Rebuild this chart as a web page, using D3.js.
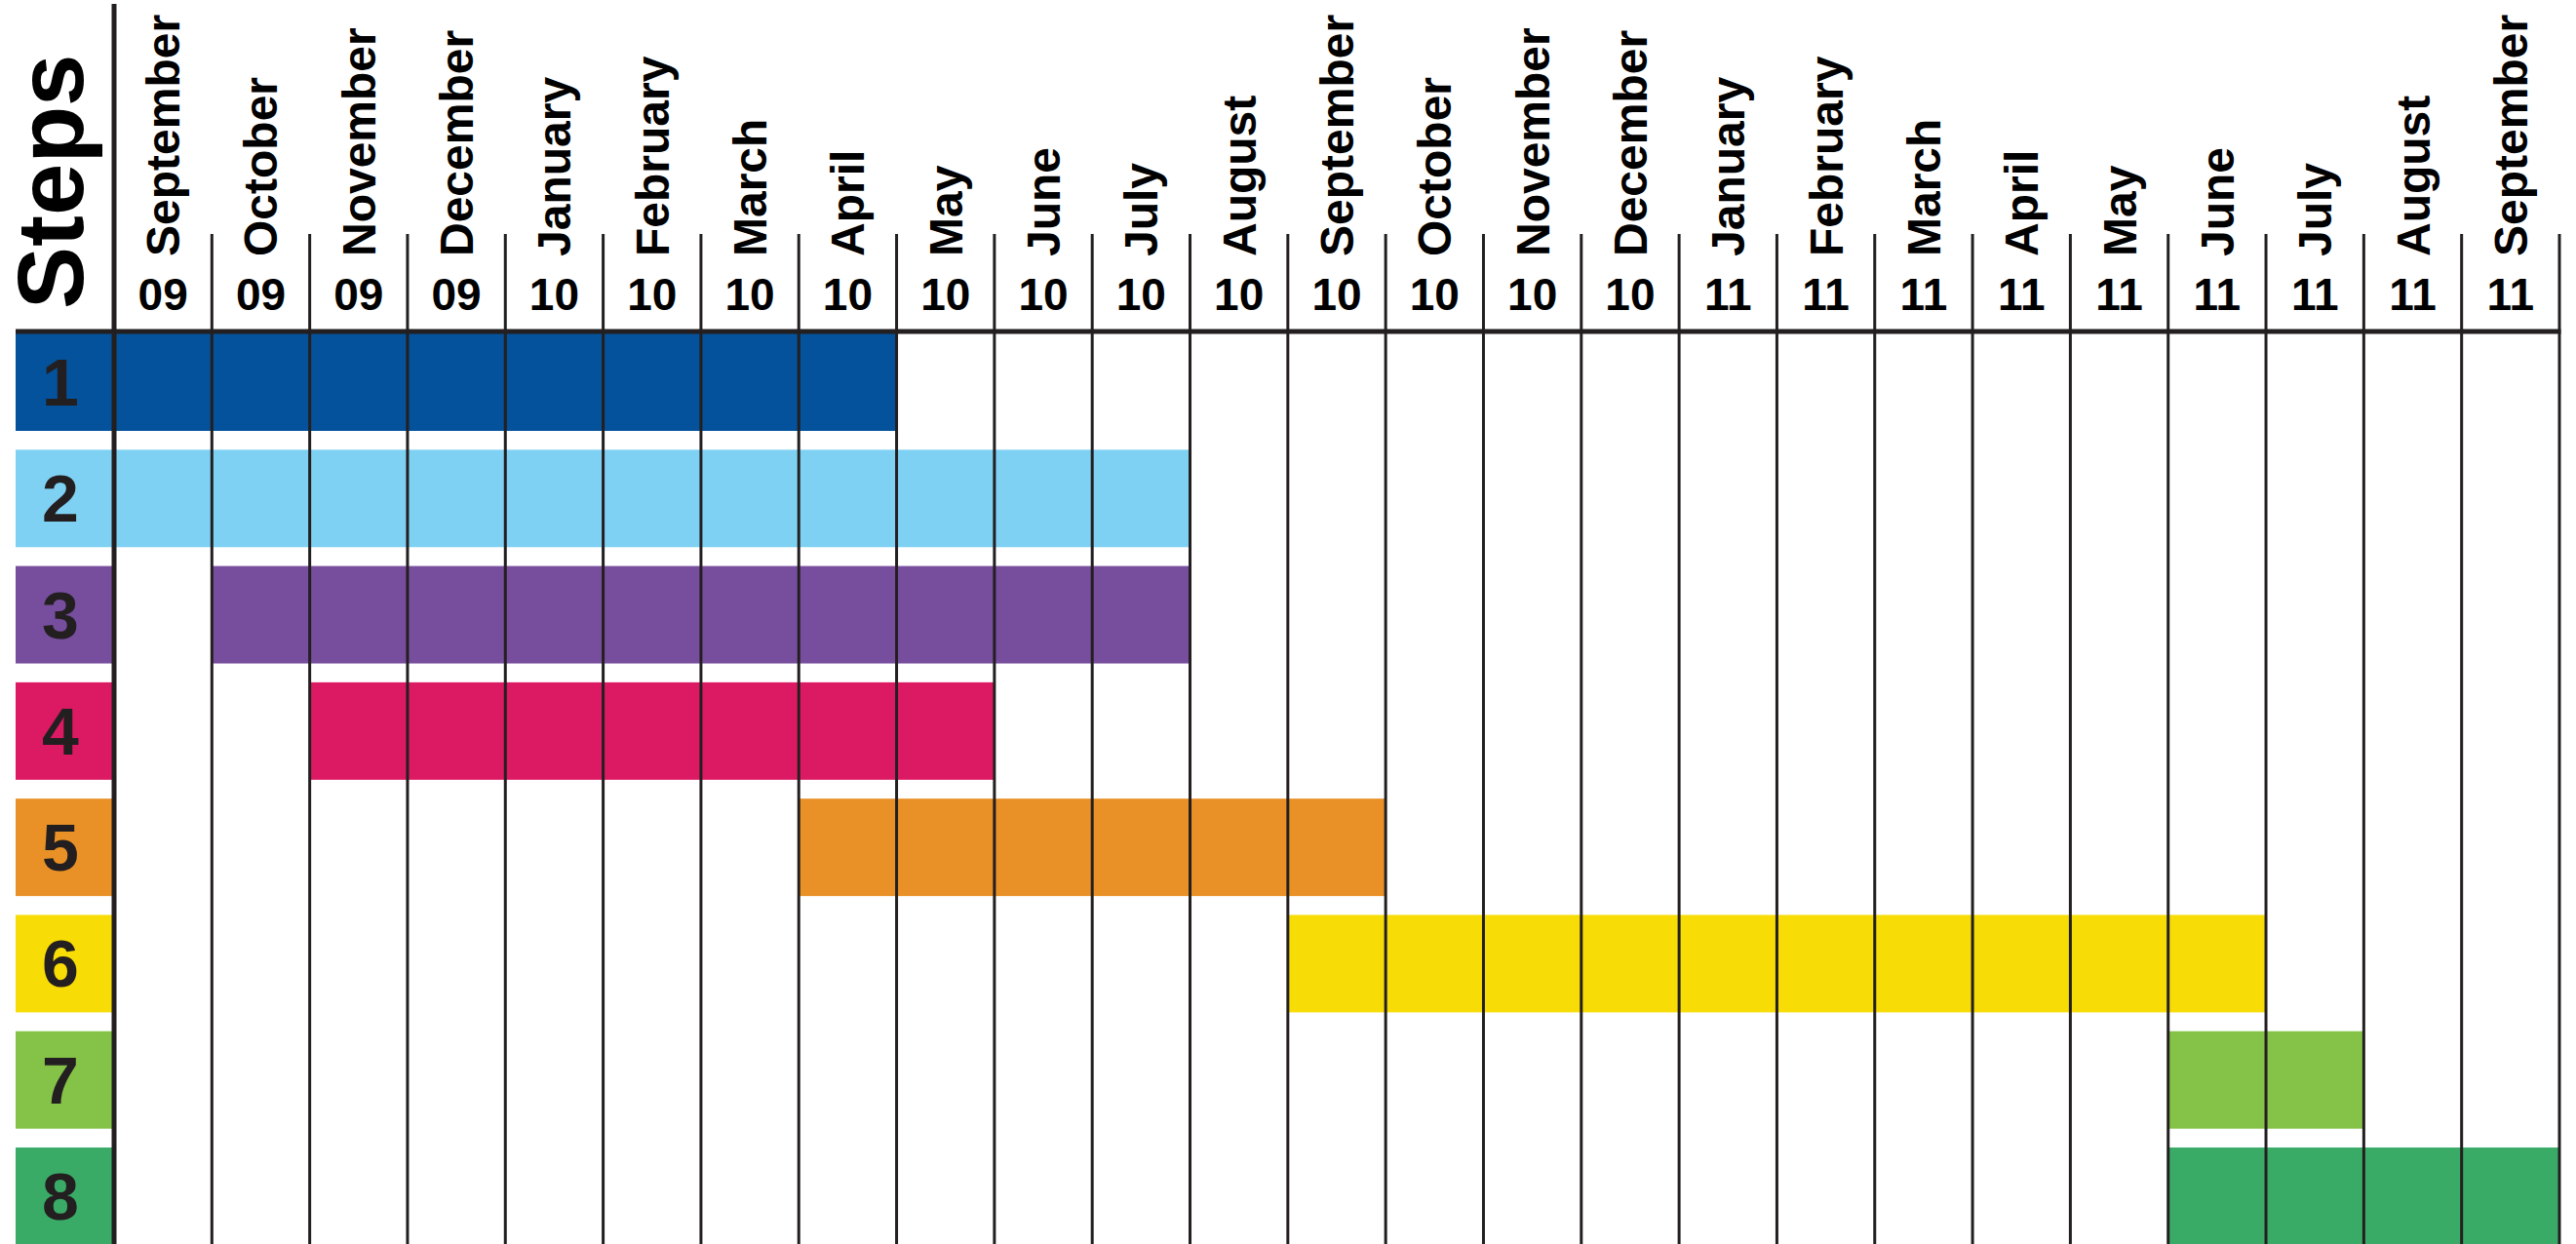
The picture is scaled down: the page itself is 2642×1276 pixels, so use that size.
<!DOCTYPE html>
<html lang="en">
<head>
    <meta charset="UTF-8">
    <script src="https://d3js.org/d3.v7.min.js"></script>
    <title>Steps</title>
    <style>
        body { margin: 0; background: white; }
        text { font-family: "Liberation Sans", Arial, sans-serif; font-weight: bold; }
    </style>
</head>
<body>
    <div class="fig"></div>
    <script>
        // month columns, Sep 09 .. Sep 11
        const months = ["September", "October", "November", "December", "January", "February", "March",
            "April", "May", "June", "July", "August", "September", "October", "November", "December",
            "January", "February", "March", "April", "May", "June", "July", "August", "September"];
        const years = ["09", "09", "09", "09", "10", "10", "10", "10", "10", "10", "10", "10", "10",
            "10", "10", "10", "11", "11", "11", "11", "11", "11", "11", "11", "11"];

        const steps = ["1", "2", "3", "4", "5", "6", "7", "8"];
        // first and last month index (inclusive) of each step
        const startMonth = [0, 0, 1, 2, 7, 12, 21, 21];
        const endMonth = [7, 10, 10, 8, 12, 21, 22, 24];
        const stepColors = ["#03529b", "#7fd1f3", "#774e9e", "#dc1a64", "#e99126", "#f8dc06", "#84c347", "#3aab67"];

        const width = 2642, height = 1276;
        const lineColor = "#231f20";

        const svg = d3.select(".fig").append("svg")
            .attr("width", width)
            .attr("height", height);

        const keys = months.map((m, i) => i);
        const x = d3.scaleBand().domain(keys).range([117, 2625]);
        const y = d3.scaleBand().domain(steps).range([342, 1277]).paddingInner(0.162);

        // step label boxes
        svg.selectAll("rect.label")
            .data(steps)
            .enter()
            .append("rect")
            .attr("x", 16)
            .attr("y", d => y(d))
            .attr("width", x(0) - 16)
            .attr("height", y.bandwidth())
            .attr("fill", (d, i) => stepColors[i]);

        svg.selectAll("text.step")
            .data(steps)
            .enter()
            .append("text")
            .attr("x", 62)
            .attr("y", d => y(d) + y.bandwidth() / 2 + 24)
            .attr("text-anchor", "middle")
            .attr("font-size", 68)
            .attr("fill", lineColor)
            .text(d => d);

        // bars
        svg.selectAll("rect.bar")
            .data(steps)
            .enter()
            .append("rect")
            .attr("x", (d, i) => x(startMonth[i]))
            .attr("y", d => y(d))
            .attr("width", (d, i) => x(endMonth[i]) + x.bandwidth() - x(startMonth[i]))
            .attr("height", y.bandwidth())
            .attr("fill", (d, i) => stepColors[i]);

        // month header
        svg.selectAll("text.month")
            .data(keys)
            .enter()
            .append("text")
            .attr("transform", d => `translate(${x(d) + x.bandwidth() / 2 + 17},263) rotate(-90)`)
            .attr("font-size", 48)
            .attr("fill", "#000")
            .text(d => months[d]);

        svg.selectAll("text.year")
            .data(keys)
            .enter()
            .append("text")
            .attr("x", d => x(d) + x.bandwidth() / 2)
            .attr("y", 318)
            .attr("text-anchor", "middle")
            .attr("font-size", 46)
            .attr("fill", "#000")
            .text(d => years[d]);

        svg.append("text")
            .attr("transform", "translate(85,317) rotate(-90)")
            .attr("font-size", 96)
            .attr("fill", "#000")
            .text("Steps");

        // grid lines
        const bounds = keys.slice(1).map(d => x(d)).concat([x.range()[1]]);
        svg.selectAll("line.col")
            .data(bounds)
            .enter()
            .append("line")
            .attr("x1", d => d).attr("x2", d => d)
            .attr("y1", 240).attr("y2", height)
            .attr("stroke", lineColor)
            .attr("stroke-width", 3);

        svg.append("line")
            .attr("x1", 16).attr("x2", x.range()[1] + 1.5)
            .attr("y1", 340).attr("y2", 340)
            .attr("stroke", lineColor)
            .attr("stroke-width", 5);

        svg.append("line")
            .attr("x1", x(0)).attr("x2", x(0))
            .attr("y1", 4).attr("y2", height)
            .attr("stroke", lineColor)
            .attr("stroke-width", 5);
    </script>
</body>
</html>
